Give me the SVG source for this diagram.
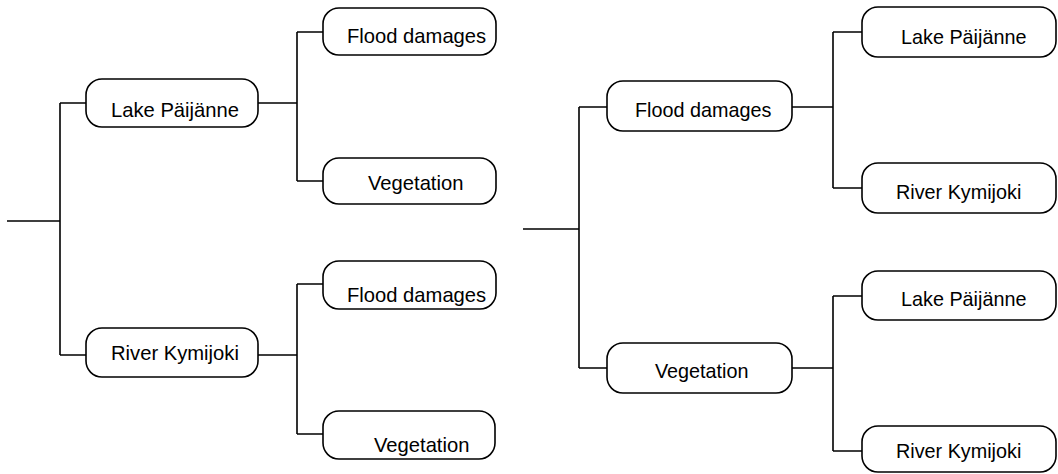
<svg xmlns="http://www.w3.org/2000/svg" width="1058" height="474" viewBox="0 0 1058 474">
<style>
.box{fill:#fff;stroke:#000;stroke-width:1.6}
.c{fill:none;stroke:#000;stroke-width:1.6}
text{font-family:"Liberation Sans",Arial,sans-serif;font-size:20.2px;fill:#000}
.r{font-size:19.8px}
</style>
<rect width="1058" height="474" fill="#fff"/>
<g id="connectors">
<path class="c" d="M7,221H60M60,103V355M60,103H86M60,355H86"/>
<path class="c" d="M258,103H297M297,32V181M297,32H323M297,181H323"/>
<path class="c" d="M258,355H297M297,284V434M297,284H323M297,434H323"/>
<path class="c" d="M523,229H579M579,107V368M579,107H607M579,368H607"/>
<path class="c" d="M792,107H833M833,32V188M833,32H862M833,188H862"/>
<path class="c" d="M792,368H833M833,296V451M833,296H862M833,451H862"/>
</g>
<g id="l-lake"><rect class="box" x="86" y="79" width="172" height="48" rx="16"/><text x="111" y="117">Lake Päijänne</text></g>
<g id="l-lake-flood"><rect class="box" x="323" y="8" width="173" height="47" rx="16"/><text x="347" y="43">Flood damages</text></g>
<g id="l-lake-veg"><rect class="box" x="323" y="158" width="173" height="46" rx="16"/><text x="368" y="190">Vegetation</text></g>
<g id="l-river"><rect class="box" x="86" y="328" width="172" height="49" rx="16"/><text x="111" y="360">River Kymijoki</text></g>
<g id="l-river-flood"><rect class="box" x="323" y="261" width="173" height="48" rx="16"/><text x="347" y="302">Flood damages</text></g>
<g id="l-river-veg"><rect class="box" x="323" y="411" width="172" height="48" rx="16"/><text x="374" y="452">Vegetation</text></g>
<g id="r-flood"><rect class="box" x="607" y="81" width="185" height="50" rx="16"/><text class="r" x="635" y="117">Flood damages</text></g>
<g id="r-flood-lake"><rect class="box" x="862" y="7" width="194" height="50" rx="16"/><text class="r" x="901" y="44">Lake Päijänne</text></g>
<g id="r-flood-river"><rect class="box" x="862" y="163" width="194" height="50" rx="16"/><text class="r" x="896" y="199">River Kymijoki</text></g>
<g id="r-veg"><rect class="box" x="607" y="343" width="185" height="50" rx="16"/><text class="r" x="655" y="378">Vegetation</text></g>
<g id="r-veg-lake"><rect class="box" x="862" y="271" width="194" height="49" rx="16"/><text class="r" x="901" y="306">Lake Päijänne</text></g>
<g id="r-veg-river"><rect class="box" x="862" y="426" width="194" height="46" rx="16"/><text class="r" x="896" y="458">River Kymijoki</text></g>
</svg>
